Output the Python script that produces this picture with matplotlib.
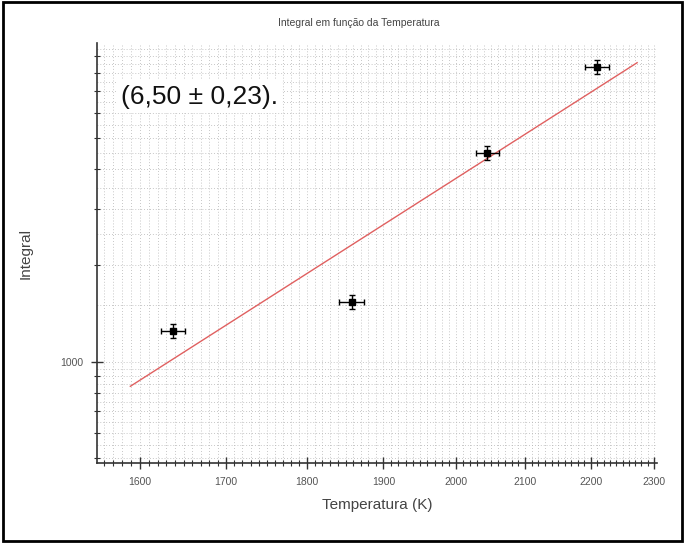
import numpy as np
import matplotlib
matplotlib.use("Agg")
import matplotlib.pyplot as plt
from matplotlib.ticker import FixedLocator, LogLocator, NullFormatter, FuncFormatter
from matplotlib.patches import Rectangle

plt.rcParams["font.family"] = ["Liberation Sans", "DejaVu Sans"]

# Measured integral vs. filament temperature
temperature_K = [1638, 1858, 2045, 2210]
temperature_err = [14, 16, 17, 19]
integral = [1250, 1540, 4500, 8350]
integral_err = [62, 77, 225, 420]

# Power-law fit  I = I0 * (T / T0)^n
fit_exponent = 6.50
fit_exponent_err = 0.23
fit_T0 = 1900.0
fit_I0 = 2680.0
fit_T_range = [1589, 2273]

x_major_ticks = [1600, 1700, 1800, 1900, 2000, 2100, 2200, 2300]

fig = plt.figure(figsize=(6.85, 5.43), dpi=100)
fig.patch.set_facecolor("white")
fig.add_artist(Rectangle((0.004, 0.004), 0.992, 0.992, transform=fig.transFigure,
                         fill=False, edgecolor="black", linewidth=2.0))

ax = fig.add_axes([0.1416, 0.1473, 0.8174, 0.7735])
ax.set_xscale("log")
ax.set_yscale("log")
ax.set_xlim(1552, 2305)
ax.set_ylim(483, 9900)

# dotted grid
grid_kw = dict(color="#b4b4b4", linestyle=(0, (1, 2.5)), linewidth=0.6, zorder=0)
for xv in np.arange(1560, 2301, 10):
    ax.axvline(xv, **grid_kw)
for dec in [100, 1000]:
    for m in np.arange(1, 10, 0.5):
        ax.axhline(m * dec, **grid_kw)

# fitted curve
Tfit = np.linspace(fit_T_range[0], fit_T_range[1], 200)
Ifit = fit_I0 * (Tfit / fit_T0) ** fit_exponent
ax.plot(Tfit, Ifit, color="#e06060", linewidth=1.0, zorder=2)

# data with error bars
ax.errorbar(temperature_K, integral, xerr=temperature_err, yerr=integral_err,
            fmt="s", color="black", markersize=5, ecolor="black",
            elinewidth=1.0, capsize=2.5, capthick=1.0, zorder=3)

label = f"({fit_exponent:.2f} ± {fit_exponent_err:.2f})".replace(".", ",") + "."
ax.text(1578, 6730, label, fontsize=19, color="#111111", ha="left", va="center",
        bbox=dict(facecolor="white", edgecolor="none", pad=3), zorder=4)

# axes styling
for s in ["top", "right"]:
    ax.spines[s].set_visible(False)
for s in ["left", "bottom"]:
    ax.spines[s].set_color("#333333")
    ax.spines[s].set_linewidth(1.2)

ax.xaxis.set_major_locator(FixedLocator(x_major_ticks))
ax.xaxis.set_major_formatter(FuncFormatter(lambda v, p: f"{v:.0f}"))
ax.xaxis.set_minor_locator(FixedLocator(np.arange(1560, 2301, 10)))
ax.xaxis.set_minor_formatter(NullFormatter())
ax.yaxis.set_major_locator(LogLocator(base=10))
ax.yaxis.set_major_formatter(FuncFormatter(lambda v, p: f"{v:.0f}"))
ax.yaxis.set_minor_locator(LogLocator(base=10, subs=np.arange(2, 10)))
ax.yaxis.set_minor_formatter(NullFormatter())

ax.tick_params(which="major", direction="inout", length=8, width=1.0, color="#333333",
               labelsize=7.5, labelcolor="#555555", pad=6)
ax.tick_params(which="minor", direction="inout", length=4, width=0.8, color="#333333")

ax.set_xlabel("Temperatura (K)", fontsize=11, color="#444444", labelpad=8)
ax.set_ylabel("Integral", fontsize=11, color="#444444", labelpad=20)
fig.text(0.523, 0.958, "Integral em função da Temperatura", fontsize=7.5,
         color="#444444", ha="center", va="center")

fig.savefig("out.png", dpi=100)
